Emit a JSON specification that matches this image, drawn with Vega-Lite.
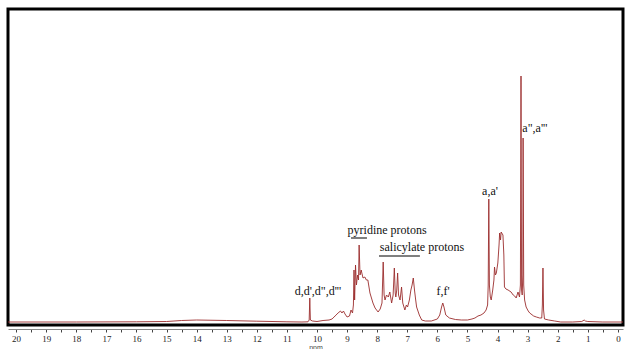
{
  "$schema": "https://vega.github.io/schema/vega-lite/v6.json",
  "width": 615,
  "height": 316,
  "autosize": {"type": "none"},
  "padding": {"left": 8, "top": 9, "right": 2, "bottom": 24},
  "background": "white",
  "config": {"view": {"stroke": "black", "strokeWidth": 3}, "axis": {"labelOverlap": false}},
  "datasets": {
    "spectrum": [
      {"ppm":20.27,"I":3},{"ppm":18,"I":3},{"ppm":16,"I":3.2},{"ppm":15,"I":3.5},{"ppm":14.5,"I":4.5},{"ppm":14,"I":5},{"ppm":13,"I":4.5},{"ppm":12,"I":3.8},{"ppm":11,"I":3.2},{"ppm":10.5,"I":3},{"ppm":10.3,"I":3.2},{"ppm":10.26,"I":5},{"ppm":10.24,"I":27},{"ppm":10.22,"I":5},{"ppm":10.15,"I":4},{"ppm":10.0,"I":3.5},{"ppm":9.8,"I":4.5},{"ppm":9.6,"I":5},{"ppm":9.5,"I":6},{"ppm":9.4,"I":9},{"ppm":9.3,"I":12},{"ppm":9.22,"I":14},{"ppm":9.17,"I":12},{"ppm":9.12,"I":14},{"ppm":9.07,"I":11},{"ppm":9.0,"I":8},{"ppm":8.92,"I":9},{"ppm":8.87,"I":15},{"ppm":8.82,"I":12},{"ppm":8.79,"I":20},{"ppm":8.77,"I":55},{"ppm":8.75,"I":25},{"ppm":8.72,"I":60},{"ppm":8.69,"I":40},{"ppm":8.65,"I":50},{"ppm":8.62,"I":45},{"ppm":8.60,"I":80},{"ppm":8.57,"I":50},{"ppm":8.53,"I":55},{"ppm":8.51,"I":52},{"ppm":8.47,"I":47},{"ppm":8.41,"I":48},{"ppm":8.36,"I":45},{"ppm":8.31,"I":45},{"ppm":8.24,"I":32},{"ppm":8.14,"I":22},{"ppm":8.07,"I":17},{"ppm":8.02,"I":15},{"ppm":7.97,"I":13},{"ppm":7.90,"I":16},{"ppm":7.84,"I":22},{"ppm":7.80,"I":63},{"ppm":7.77,"I":30},{"ppm":7.74,"I":25},{"ppm":7.69,"I":30},{"ppm":7.63,"I":28},{"ppm":7.58,"I":33},{"ppm":7.52,"I":22},{"ppm":7.47,"I":30},{"ppm":7.43,"I":57},{"ppm":7.40,"I":32},{"ppm":7.38,"I":28},{"ppm":7.35,"I":35},{"ppm":7.32,"I":52},{"ppm":7.29,"I":30},{"ppm":7.24,"I":25},{"ppm":7.19,"I":38},{"ppm":7.15,"I":22},{"ppm":7.08,"I":15},{"ppm":7.03,"I":20},{"ppm":6.99,"I":18},{"ppm":6.93,"I":25},{"ppm":6.88,"I":35},{"ppm":6.84,"I":40},{"ppm":6.80,"I":47},{"ppm":6.76,"I":35},{"ppm":6.72,"I":25},{"ppm":6.69,"I":18},{"ppm":6.6,"I":10},{"ppm":6.52,"I":5},{"ppm":6.4,"I":4},{"ppm":6.2,"I":4},{"ppm":6.0,"I":6},{"ppm":5.92,"I":10},{"ppm":5.86,"I":18},{"ppm":5.82,"I":22},{"ppm":5.78,"I":18},{"ppm":5.72,"I":10},{"ppm":5.6,"I":7},{"ppm":5.4,"I":5.5},{"ppm":5.2,"I":5},{"ppm":5.0,"I":5},{"ppm":4.85,"I":6},{"ppm":4.75,"I":7},{"ppm":4.65,"I":9},{"ppm":4.55,"I":10},{"ppm":4.45,"I":12},{"ppm":4.38,"I":15},{"ppm":4.33,"I":20},{"ppm":4.31,"I":40},{"ppm":4.29,"I":126},{"ppm":4.27,"I":40},{"ppm":4.24,"I":28},{"ppm":4.21,"I":25},{"ppm":4.16,"I":35},{"ppm":4.12,"I":45},{"ppm":4.10,"I":58},{"ppm":4.07,"I":50},{"ppm":4.04,"I":52},{"ppm":3.99,"I":62},{"ppm":3.95,"I":80},{"ppm":3.93,"I":92},{"ppm":3.90,"I":85},{"ppm":3.88,"I":93},{"ppm":3.82,"I":90},{"ppm":3.79,"I":70},{"ppm":3.77,"I":38},{"ppm":3.72,"I":36},{"ppm":3.65,"I":35},{"ppm":3.55,"I":33},{"ppm":3.48,"I":30},{"ppm":3.43,"I":29},{"ppm":3.38,"I":27},{"ppm":3.32,"I":33},{"ppm":3.27,"I":28},{"ppm":3.24,"I":40},{"ppm":3.22,"I":249},{"ppm":3.20,"I":35},{"ppm":3.18,"I":30},{"ppm":3.16,"I":50},{"ppm":3.15,"I":187},{"ppm":3.13,"I":40},{"ppm":3.10,"I":25},{"ppm":3.05,"I":18},{"ppm":2.98,"I":14},{"ppm":2.93,"I":12},{"ppm":2.8,"I":9},{"ppm":2.71,"I":8},{"ppm":2.6,"I":7},{"ppm":2.53,"I":7},{"ppm":2.51,"I":20},{"ppm":2.49,"I":57},{"ppm":2.47,"I":15},{"ppm":2.44,"I":6},{"ppm":2.3,"I":5},{"ppm":2.1,"I":4},{"ppm":1.9,"I":3},{"ppm":1.5,"I":3},{"ppm":1.2,"I":3.5},{"ppm":1.12,"I":5},{"ppm":1.08,"I":4},{"ppm":1.0,"I":3.5},{"ppm":0.5,"I":3},{"ppm":-0.17,"I":3}
    ],
    "labels": [
      {"ppm": 9.97, "I": 34, "label": "d,d',d\",d'''"},
      {"ppm": 7.67, "I": 95, "label": "pyridine protons"},
      {"ppm": 6.51, "I": 78, "label": "salicylate protons"},
      {"ppm": 5.81, "I": 34, "label": "f,f'"},
      {"ppm": 4.25, "I": 134, "label": "a,a'"},
      {"ppm": 2.76, "I": 197, "label": "a\",a'''"}
    ],
    "bars": [
      {"ppm": 8.87, "end": 8.34, "I": 87},
      {"ppm": 7.94, "end": 6.58, "I": 69}
    ]
  },
  "encoding": {
    "x": {
      "field": "ppm", "type": "quantitative",
      "scale": {"domain": [20.27, -0.17], "nice": false, "zero": false},
      "axis": {
        "title": "ppm",
        "values": [0,0.5,1,1.5,2,2.5,3,3.5,4,4.5,5,5.5,6,6.5,7,7.5,8,8.5,9,9.5,10,10.5,11,11.5,12,12.5,13,13.5,14,14.5,15,15.5,16,16.5,17,17.5,18,18.5,19,19.5,20],
        "labelExpr": "datum.value % 1 === 0 ? format(datum.value, 'd') : ''",
        "labelOverlap": false,
        "labelBound": false,
        "offset": 4,
        "domainColor": "#888",
        "domainWidth": 1,
        "tickColor": "#444",
        "tickSize": 3,
        "labelPadding": 2,
        "labelFont": "Liberation Serif",
        "labelFontSize": 9,
        "labelColor": "#222",
        "titleFont": "Liberation Sans",
        "titleFontSize": 7,
        "titleFontWeight": "normal",
        "titleColor": "#444",
        "titlePadding": 0,
        "grid": false
      }
    },
    "y": {
      "field": "I", "type": "quantitative",
      "scale": {"domain": [0, 316], "nice": false, "zero": false},
      "axis": null
    }
  },
  "layer": [
    {
      "data": {"name": "spectrum"},
      "mark": {"type": "line", "color": "#9b2d2d", "strokeWidth": 0.9, "clip": true},
      "encoding": {
        "order": {"field": "ppm", "sort": "descending"}
      }
    },
    {
      "data": {"name": "bars"},
      "mark": {"type": "rule", "color": "#555", "strokeWidth": 1.5},
      "encoding": {
        "x2": {"field": "end"}
      }
    },
    {
      "data": {"name": "labels"},
      "mark": {"type": "text", "font": "Liberation Serif", "fontSize": 12, "color": "#111", "baseline": "middle", "align": "center"},
      "encoding": {
        "text": {"field": "label"}
      }
    }
  ]
}
